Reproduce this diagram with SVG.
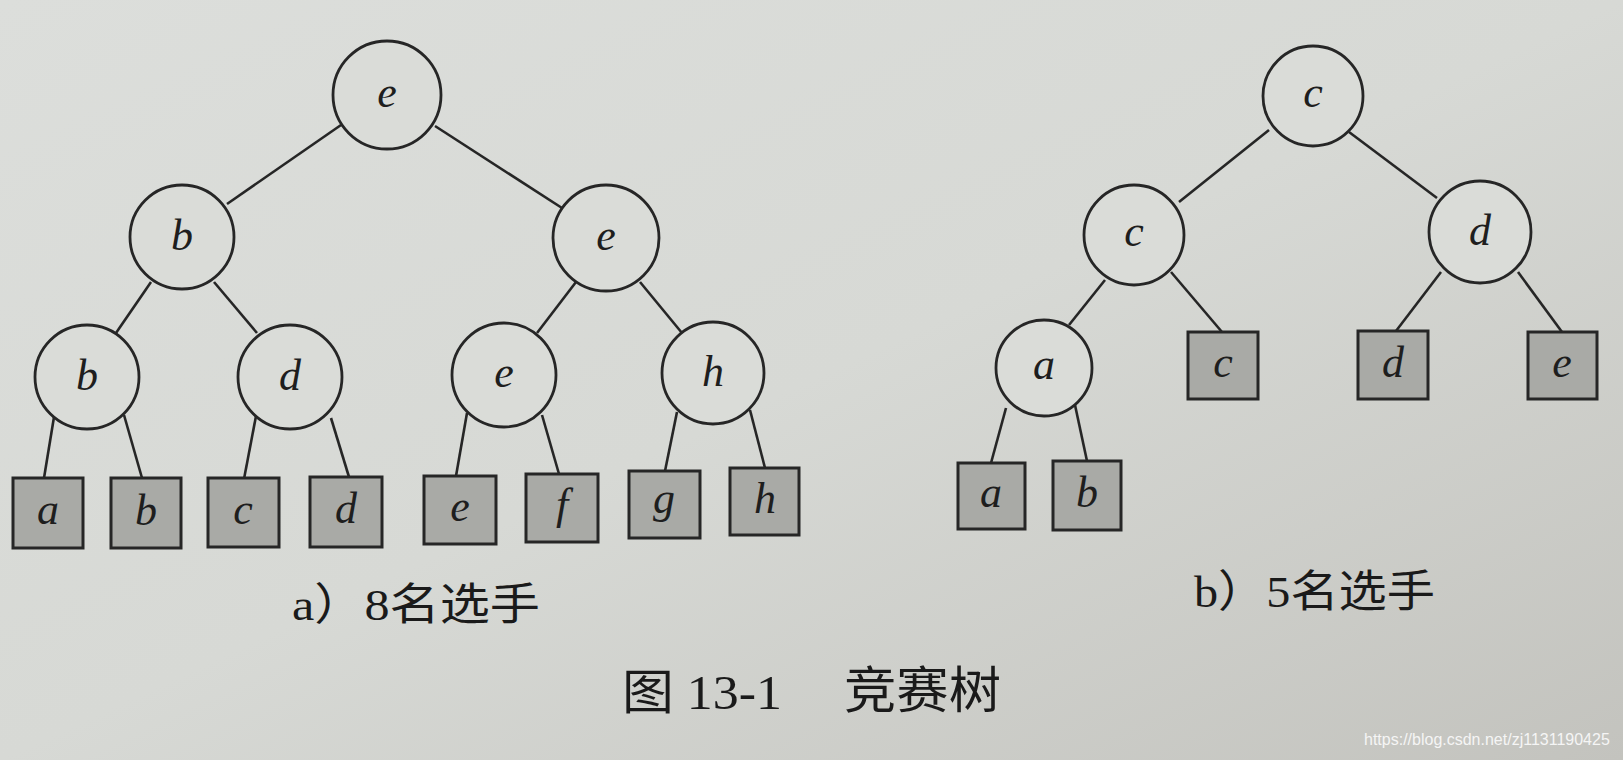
<svg xmlns="http://www.w3.org/2000/svg" width="1623" height="760" viewBox="0 0 1623 760">
  <defs>
    <linearGradient id="paper" x1="0" y1="0" x2="1" y2="1">
      <stop offset="0" stop-color="#dcdedb"/>
      <stop offset="0.5" stop-color="#d7d9d5"/>
      <stop offset="1" stop-color="#c3c3be"/>
    </linearGradient>
    <style>
      .node circle { fill: #dadcd8; stroke: #262626; stroke-width: 2.8; }
      .leaf rect { fill: #a9aaa6; stroke: #262626; stroke-width: 3; }
      .lbl { font-family: "Liberation Serif", serif; font-style: italic; font-size: 44px; fill: #1e1e1e; text-anchor: middle; }
      #connectors line { stroke: #262626; stroke-width: 2.6; }
      .cap { font-family: "Liberation Serif", "Noto Sans CJK SC", serif; fill: #1a1a1a; }
      .wm { font-family: "Liberation Sans", sans-serif; font-size: 16px; fill: #f5f5f5; }
    </style>
  </defs>
  <rect width="1623" height="760" fill="url(#paper)"/>

  <g id="connectors">
    <!-- tree a -->
    <line x1="341" y1="125" x2="227" y2="204"/>
    <line x1="435" y1="126" x2="562" y2="208"/>
    <line x1="151" y1="282" x2="116" y2="333"/>
    <line x1="214" y1="282" x2="257" y2="333"/>
    <line x1="576" y1="282" x2="537" y2="333"/>
    <line x1="640" y1="282" x2="682" y2="333"/>
    <line x1="54" y1="417" x2="44" y2="478"/>
    <line x1="124" y1="415" x2="142" y2="478"/>
    <line x1="256" y1="416" x2="244" y2="479"/>
    <line x1="331" y1="418" x2="349" y2="477"/>
    <line x1="467" y1="413" x2="456" y2="476"/>
    <line x1="542" y1="415" x2="559" y2="474"/>
    <line x1="677" y1="412" x2="665" y2="471"/>
    <line x1="750" y1="410" x2="765" y2="468"/>
    <!-- tree b -->
    <line x1="1269" y1="130" x2="1179" y2="202"/>
    <line x1="1349" y1="132" x2="1437" y2="198"/>
    <line x1="1105" y1="280" x2="1069" y2="325"/>
    <line x1="1171" y1="272" x2="1222" y2="332"/>
    <line x1="1441" y1="272" x2="1396" y2="331"/>
    <line x1="1518" y1="272" x2="1562" y2="332"/>
    <line x1="1006" y1="408" x2="991" y2="463"/>
    <line x1="1075" y1="405" x2="1087" y2="461"/>
  </g>

  <!-- tree a internal nodes -->
  <g id="a-root" class="node"><circle cx="387" cy="95" r="54"/><text class="lbl" x="387" y="107">e</text></g>
  <g id="a-l1-b" class="node"><circle cx="182" cy="237" r="52"/><text class="lbl" x="182" y="250">b</text></g>
  <g id="a-l1-e" class="node"><circle cx="606" cy="238" r="53"/><text class="lbl" x="606" y="250">e</text></g>
  <g id="a-l2-b" class="node"><circle cx="87" cy="377" r="52"/><text class="lbl" x="87" y="390">b</text></g>
  <g id="a-l2-d" class="node"><circle cx="290" cy="377" r="52"/><text class="lbl" x="290" y="390">d</text></g>
  <g id="a-l2-e" class="node"><circle cx="504" cy="375" r="52"/><text class="lbl" x="504" y="387">e</text></g>
  <g id="a-l2-h" class="node"><circle cx="713" cy="373" r="51"/><text class="lbl" x="713" y="386">h</text></g>

  <!-- tree a leaves -->
  <g id="a-leaf-a" class="leaf"><rect x="13" y="478" width="70" height="70"/><text class="lbl" x="48" y="524">a</text></g>
  <g id="a-leaf-b" class="leaf"><rect x="111" y="478" width="70" height="70"/><text class="lbl" x="146" y="525">b</text></g>
  <g id="a-leaf-c" class="leaf"><rect x="208" y="478" width="71" height="69"/><text class="lbl" x="243" y="524">c</text></g>
  <g id="a-leaf-d" class="leaf"><rect x="310" y="477" width="72" height="70"/><text class="lbl" x="346" y="523">d</text></g>
  <g id="a-leaf-e" class="leaf"><rect x="424" y="476" width="72" height="68"/><text class="lbl" x="460" y="521">e</text></g>
  <g id="a-leaf-f" class="leaf"><rect x="526" y="474" width="72" height="68"/><text class="lbl" x="562" y="519">f</text></g>
  <g id="a-leaf-g" class="leaf"><rect x="629" y="471" width="71" height="67"/><text class="lbl" x="664" y="513">g</text></g>
  <g id="a-leaf-h" class="leaf"><rect x="730" y="468" width="69" height="67"/><text class="lbl" x="765" y="513">h</text></g>

  <!-- tree b internal nodes -->
  <g id="b-root" class="node"><circle cx="1313" cy="96" r="50"/><text class="lbl" x="1313" y="107">c</text></g>
  <g id="b-l1-c" class="node"><circle cx="1134" cy="235" r="50"/><text class="lbl" x="1134" y="246">c</text></g>
  <g id="b-l1-d" class="node"><circle cx="1480" cy="232" r="51"/><text class="lbl" x="1480" y="245">d</text></g>
  <g id="b-l2-a" class="node"><circle cx="1044" cy="368" r="48"/><text class="lbl" x="1044" y="379">a</text></g>

  <!-- tree b leaves -->
  <g id="b-leaf-c" class="leaf"><rect x="1188" y="332" width="70" height="67"/><text class="lbl" x="1223" y="377">c</text></g>
  <g id="b-leaf-d" class="leaf"><rect x="1358" y="331" width="70" height="68"/><text class="lbl" x="1393" y="377">d</text></g>
  <g id="b-leaf-e" class="leaf"><rect x="1528" y="332" width="69" height="67"/><text class="lbl" x="1562" y="377">e</text></g>
  <g id="b-leaf-a" class="leaf"><rect x="958" y="463" width="67" height="66"/><text class="lbl" x="991" y="507">a</text></g>
  <g id="b-leaf-b" class="leaf"><rect x="1053" y="461" width="68" height="69"/><text class="lbl" x="1087" y="507">b</text></g>

  <!-- captions -->
  <text class="cap" x="292" y="620" font-size="44" textLength="248" lengthAdjust="spacingAndGlyphs">a）8名选手</text>
  <text class="cap" x="1194" y="607" font-size="44" textLength="241" lengthAdjust="spacingAndGlyphs">b）5名选手</text>
  <text class="cap" x="622" y="709" font-size="48" textLength="160" lengthAdjust="spacingAndGlyphs">图 13-1</text>
  <text class="cap" x="844" y="708" font-size="50" textLength="157" lengthAdjust="spacingAndGlyphs">竞赛树</text>
  <text class="wm" x="1364" y="745">https://blog.csdn.net/zj1131190425</text>
</svg>
